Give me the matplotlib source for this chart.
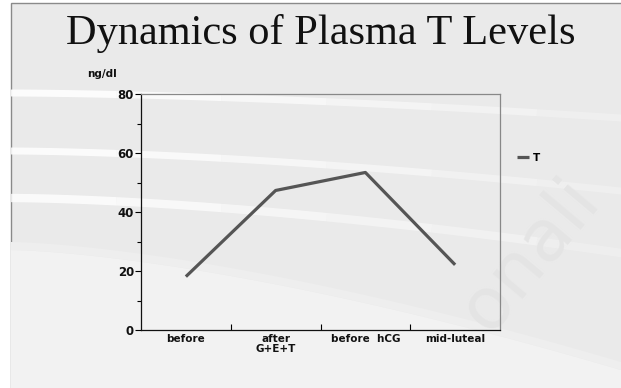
import numpy as np
import matplotlib.pyplot as plt
from matplotlib.patches import Rectangle

# plasma testosterone, ng/dl
stages = ["before", "after\nG+E+T", "before  hCG", "mid-luteal"]
t_levels = [18.1, 47.3, 53.4, 22.1]
y_ticks = [0, 20, 40, 60, 80]

fig = plt.figure(figsize=(6.21, 3.88), dpi=100)
fig.patch.set_facecolor("white")

# slide background with soft white swooshes
bg = fig.add_axes([0, 0, 1, 1], zorder=0)
bg.set_xlim(0, 621)
bg.set_ylim(388, 0)
bg.axis("off")
bg.add_patch(Rectangle((11, 3), 700, 450, facecolor="#eaeaea",
                       edgecolor="#8a8a8a", linewidth=1.0))
xs = np.linspace(11, 640, 300)
t = (xs - 11) / 610
# lighter lower sweep
low = 250 + 120 * t ** 1.5
bg.fill_between(xs, low, 400, color="#f2f2f2", lw=0)
bg.fill_between(xs, low - 8, low, color="#eeeeee", lw=0)
for y0, bend, lw, a in [(93, 25, 5, 0.9), (151, 40, 5, 0.85),
                        (198, 55, 6, 0.8)]:
    ys = y0 + bend * t ** 1.6
    for k in range(6):
        seg = slice(k * 50, (k + 1) * 50 + 1)
        bg.plot(xs[seg], ys[seg], color="white", lw=lw,
                alpha=a * (1 - k / 7), solid_capstyle="butt")

# faint watermark lettering
bg.text(530, 255, "onali", rotation=50, ha="center", va="center",
        fontsize=52, color="#e4e4e4", family="DejaVu Sans")

fig.text(0.517, 0.913, "Dynamics of Plasma T Levels", ha="center", va="center",
         family="Liberation Serif", fontsize=30.5, color="#111111")

ax = fig.add_axes([141 / 621, 1 - 330 / 388, 359 / 621, 236 / 388], zorder=1)
ax.patch.set_alpha(0)

x = np.arange(len(stages))
ax.plot(x, t_levels, color="#555555", lw=2.3, solid_capstyle="butt", label="T")

ax.set_xlim(-0.5, len(stages) - 0.5)
ax.set_ylim(0, 80)
ax.set_yticks(y_ticks)
ax.set_yticks([10, 30, 50, 70], minor=True)
ax.set_xticks(x)
ax.set_xticklabels(stages, fontsize=7.5, color="#111111", linespacing=1.0,
                   fontweight="bold")
ax.set_xticks(np.arange(0.5, len(stages) - 0.5), minor=True)

ax.tick_params(axis="y", which="major", direction="out", length=4, width=0.8,
               labelsize=8.5, pad=1, labelcolor="#111111")
ax.tick_params(axis="y", which="minor", direction="out", length=3, width=0.8)
ax.tick_params(axis="x", which="major", length=0, pad=3)
ax.tick_params(axis="x", which="minor", direction="in", length=4, width=0.8)
for lbl in ax.get_yticklabels():
    lbl.set_fontweight("bold")

ax.spines["left"].set_color("#111111")
ax.spines["bottom"].set_color("#111111")
ax.spines["top"].set_color("#888888")
ax.spines["right"].set_color("#888888")
for s in ax.spines.values():
    s.set_linewidth(0.9)

ax.text(-0.15, 1.085, "ng/dl", transform=ax.transAxes, fontsize=7.5,
        fontweight="bold", ha="left", va="center", color="#111111")

leg = ax.legend(loc="center left", bbox_to_anchor=(1.02, 0.73), frameon=False,
                handlelength=1.2, handletextpad=0.4,
                prop={"size": 7.5, "weight": "bold"})

fig.savefig("out.png", dpi=100)
